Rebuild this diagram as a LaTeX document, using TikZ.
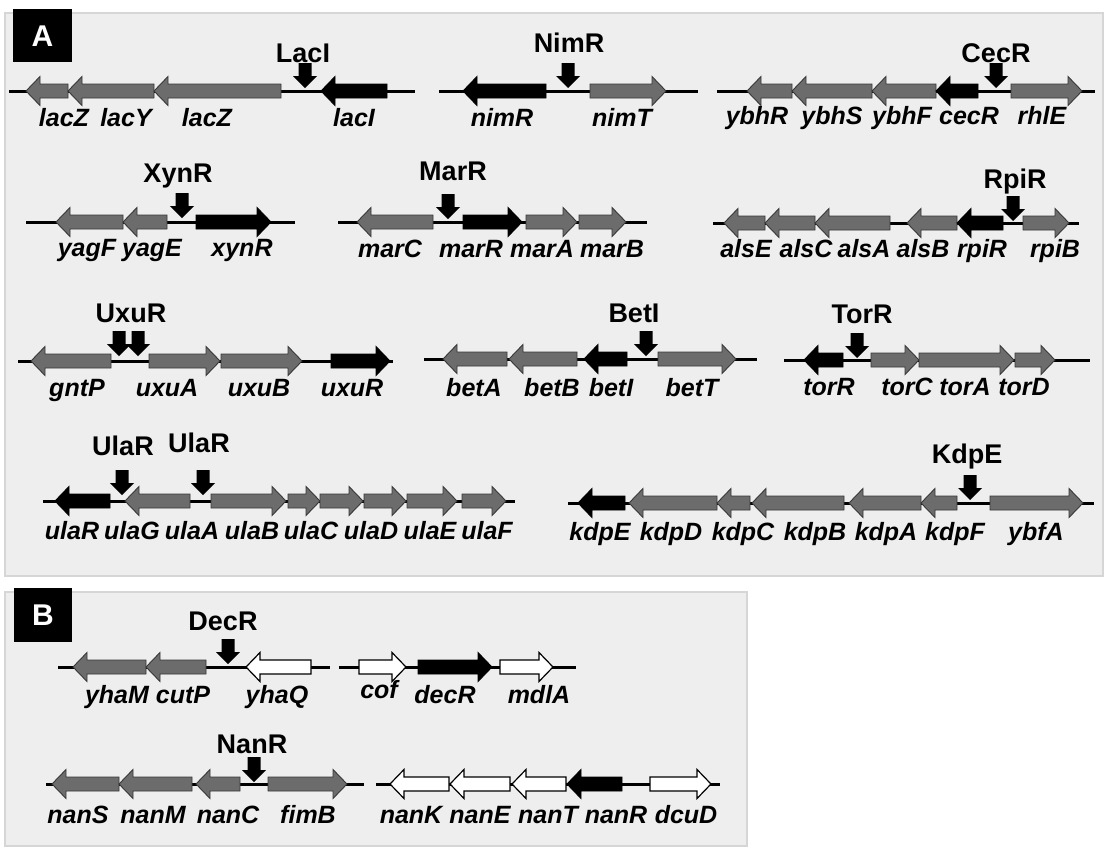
\documentclass[tikz,border=0pt]{standalone}
\usepackage{fontspec}
\setmainfont{Liberation Sans}
\definecolor{genegray}{RGB}{108,108,108}
\definecolor{geneedge}{RGB}{55,55,55}
\definecolor{panelbg}{RGB}{238,238,238}
\definecolor{panelrule}{RGB}{214,214,214}
\newcommand\gfont{\fontsize{25}{30}\selectfont\bfseries\itshape}
\newcommand\pfont{\fontsize{27}{32}\selectfont\bfseries}
\tikzset{
  bb/.style={line width=3pt, black},
  gg/.style={fill=genegray, draw=geneedge, line width=0.9pt, line join=miter},
  gb/.style={fill=black, draw=black, line width=0.9pt},
  gw/.style={fill=white, draw=black, line width=1.2pt},
  gname/.style={font=\gfont, anchor=base, inner sep=0pt},
  pname/.style={font=\pfont, anchor=base, inner sep=0pt},
  panel/.style={fill=panelbg, draw=panelrule, line width=2.5pt},
  tag/.style={fill=black},
}
% leftward gene: tip x, right end x, backbone y
\newcommand\geneL[4]{\draw[#1] (#2,#4) -- (#2+14,#4-14.5) -- (#2+14,#4-7) -- (#3,#4-7) -- (#3,#4+7) -- (#2+14,#4+7) -- (#2+14,#4+14.5) -- cycle;}
% rightward gene: left end x, tip x, backbone y
\newcommand\geneR[4]{\draw[#1] (#2,#4-7) -- (#3-14,#4-7) -- (#3-14,#4-14.5) -- (#3,#4) -- (#3-14,#4+14.5) -- (#3-14,#4+7) -- (#2,#4+7) -- cycle;}
% binding-site marker: x, tip y
\newcommand\site[2]{\fill (#1-6.5,#2-25) -- (#1+6.5,#2-25) -- (#1+6.5,#2-12) -- (#1+12,#2-12) -- (#1,#2) -- (#1-12,#2-12) -- (#1-6.5,#2-12) -- cycle;}
\begin{document}
\begin{tikzpicture}[x=1pt,y=-1pt]
\useasboundingbox (0,0) rectangle (1109,847);
\fill[white] (0,0) rectangle (1109,847);

% ---------------- panel A ----------------
\draw[panel] (5,13) rectangle (1103,576);
\fill[tag] (13,9) rectangle (72,62);
\node[font=\fontsize{30}{34}\selectfont\bfseries, text=white] (tagA) at (42.5,36) {A};

% lac
\draw[bb] (9,91) -- (415,91);
\geneL{gg}{26}{68}{91}
\geneL{gg}{68}{154}{91}
\geneL{gg}{154}{281}{91}
\geneL{gb}{321}{387}{91}
\site{305}{88}
\node[pname] (pLacI) at (303,62) {LacI};
\node[gname] (lacA) at (64,126) {lacZ};
\node[gname] (lacY) at (126,126) {lacY};
\node[gname] (lacZ) at (207,126) {lacZ};
\node[gname] (lacI) at (354,126) {lacI};

% nim
\draw[bb] (439,91) -- (698,91);
\geneL{gb}{463}{546}{91}
\geneR{gg}{590}{666}{91}
\site{568}{88}
\node[pname] (pNimR) at (569,52) {NimR};
\node[gname] (nimR) at (502,126) {nimR};
\node[gname] (nimT) at (622,126) {nimT};

% cec
\draw[bb] (717,91) -- (1095,91);
\geneL{gg}{747}{792}{91}
\geneL{gg}{792}{872}{91}
\geneL{gg}{872}{936}{91}
\geneL{gb}{936}{978}{91}
\geneR{gg}{1011}{1082}{91}
\site{996}{88}
\node[pname] (pCecR) at (996,62) {CecR};
\node[gname] (ybhR) at (757,124) {ybhR};
\node[gname] (ybhS) at (832,124) {ybhS};
\node[gname] (ybhF) at (902,124) {ybhF};
\node[gname] (cecR) at (969,124) {cecR};
\node[gname] (rhlE) at (1042,124) {rhlE};

% xyn
\draw[bb] (26,222) -- (295,222);
\geneL{gg}{56}{123}{222}
\geneL{gg}{123}{167}{222}
\geneR{gb}{196}{271}{222}
\site{182}{218}
\node[pname] (pXynR) at (178,182) {XynR};
\node[gname] (yagF) at (87,256) {yagF};
\node[gname] (yagE) at (152,256) {yagE};
\node[gname] (xynR) at (242,256) {xynR};

% mar
\draw[bb] (338,222) -- (647,222);
\geneL{gg}{357}{433}{222}
\geneR{gb}{463}{522}{222}
\geneR{gg}{526}{577}{222}
\geneR{gg}{579}{626}{222}
\site{448}{219}
\node[pname] (pMarR) at (453,180) {MarR};
\node[gname] (marC) at (390,257) {marC};
\node[gname] (marR) at (471,257) {marR};
\node[gname] (marA) at (542,257) {marA};
\node[gname] (marB) at (612,257) {marB};

% als / rpi
\draw[bb] (713,223) -- (1079,223);
\geneL{gg}{724}{765}{223}
\geneL{gg}{765}{815}{223}
\geneL{gg}{815}{890}{223}
\geneL{gg}{907}{957}{223}
\geneL{gb}{957}{1003}{223}
\geneR{gg}{1023}{1069}{223}
\site{1013}{221}
\node[pname] (pRpiR) at (1015,188) {RpiR};
\node[gname] (alsE) at (746,257) {alsE};
\node[gname] (alsC) at (806,257) {alsC};
\node[gname] (alsA) at (864,257) {alsA};
\node[gname] (alsB) at (923,257) {alsB};
\node[gname] (rpiR) at (982,257) {rpiR};
\node[gname] (rpiB) at (1055,257) {rpiB};

% uxu
\draw[bb] (18,361) -- (393,361);
\geneL{gg}{31}{111}{361}
\geneR{gg}{149}{220}{361}
\geneR{gg}{221}{302}{361}
\geneR{gb}{331}{390}{361}
\site{119}{356}
\site{138}{356}
\node[pname] (pUxuR) at (131,322) {UxuR};
\node[gname] (gntP) at (77,396) {gntP};
\node[gname] (uxuA) at (167,396) {uxuA};
\node[gname] (uxuB) at (259,396) {uxuB};
\node[gname] (uxuR) at (352,396) {uxuR};

% bet
\draw[bb] (424,359) -- (757,359);
\geneL{gg}{443}{507}{359}
\geneL{gg}{509}{577}{359}
\geneL{gb}{584}{627}{359}
\geneR{gg}{658}{736}{359}
\site{646}{356}
\node[pname] (pBetI) at (634,322) {BetI};
\node[gname] (betA) at (474,396) {betA};
\node[gname] (betB) at (552,396) {betB};
\node[gname] (betI) at (611,396) {betI};
\node[gname] (betT) at (692,396) {betT};

% tor
\draw[bb] (784,360) -- (1090,360);
\geneL{gb}{804}{843}{360}
\geneR{gg}{871}{919}{360}
\geneR{gg}{919}{1014}{360}
\geneR{gg}{1015}{1055}{360}
\site{857}{358}
\node[pname] (pTorR) at (862,323) {TorR};
\node[gname] (torR) at (829,395) {torR};
\node[gname] (torC) at (907,395) {torC};
\node[gname] (torA) at (965,395) {torA};
\node[gname] (torD) at (1024,395) {torD};

% ula
\draw[bb] (43,501) -- (515,501);
\geneL{gb}{55}{110}{501}
\geneL{gg}{125}{190}{501}
\geneR{gg}{211}{286}{501}
\geneR{gg}{288}{320}{501}
\geneR{gg}{320}{363}{501}
\geneR{gg}{364}{406}{501}
\geneR{gg}{407}{457}{501}
\geneR{gg}{462}{506}{501}
\site{122}{495}
\site{203}{495}
\node[pname] (pUlaR1) at (123,455) {UlaR};
\node[pname] (pUlaR2) at (199,452) {UlaR};
\node[gname] (ulaR) at (72,539) {ulaR};
\node[gname] (ulaG) at (132,539) {ulaG};
\node[gname] (ulaA) at (192,539) {ulaA};
\node[gname] (ulaB) at (252,539) {ulaB};
\node[gname] (ulaC) at (311,539) {ulaC};
\node[gname] (ulaD) at (371,539) {ulaD};
\node[gname] (ulaE) at (430,539) {ulaE};
\node[gname] (ulaF) at (487,539) {ulaF};

% kdp
\draw[bb] (568,503) -- (1094,503);
\geneL{gb}{578}{625}{503}
\geneL{gg}{629}{717}{503}
\geneL{gg}{717}{750}{503}
\geneL{gg}{752}{844}{503}
\geneL{gg}{849}{921}{503}
\geneL{gg}{921}{957}{503}
\geneR{gg}{990}{1083}{503}
\site{970}{500}
\node[pname] (pKdpE) at (967,463) {KdpE};
\node[gname] (kdpE) at (600,540) {kdpE};
\node[gname] (kdpD) at (671,540) {kdpD};
\node[gname] (kdpC) at (743,540) {kdpC};
\node[gname] (kdpB) at (815,540) {kdpB};
\node[gname] (kdpA) at (886,540) {kdpA};
\node[gname] (kdpF) at (955,540) {kdpF};
\node[gname] (ybfA) at (1036,540) {ybfA};

% ---------------- panel B ----------------
\draw[panel] (5,592) rectangle (747,846);
\fill[tag] (14,588) rectangle (72,642);
\node[font=\fontsize{30}{34}\selectfont\bfseries, text=white] (tagB) at (43,615) {B};

% yha / cutP
\draw[bb] (58,667) -- (330,667);
\geneL{gg}{73}{146}{667}
\geneL{gg}{146}{206}{667}
\geneL{gw}{246}{311}{667}
\site{228}{664}
\node[pname] (pDecR) at (223,630) {DecR};
\node[gname] (yhaM) at (117,703) {yhaM};
\node[gname] (cutP) at (183,703) {cutP};
\node[gname] (yhaQ) at (277,703) {yhaQ};

% cof / dec
\draw[bb] (339,667) -- (576,667);
\geneR{gw}{359}{406}{667}
\geneR{gb}{418}{492}{667}
\geneR{gw}{500}{553}{667}
\node[gname] (cof) at (379,698) {cof};
\node[gname] (decR) at (445,703) {decR};
\node[gname] (mdlA) at (539,703) {mdlA};

% nan (left)
\draw[bb] (46,784) -- (364,784);
\geneL{gg}{52}{119}{784}
\geneL{gg}{119}{192}{784}
\geneL{gg}{196}{240}{784}
\geneR{gg}{268}{347}{784}
\site{254}{782}
\node[pname] (pNanR) at (252,753) {NanR};
\node[gname] (nanS) at (78,823) {nanS};
\node[gname] (nanM) at (153,823) {nanM};
\node[gname] (nanC) at (228,823) {nanC};
\node[gname] (fimB) at (308,823) {fimB};

% nan (right)
\draw[bb] (376,784) -- (720,784);
\geneL{gw}{390}{449}{784}
\geneL{gw}{450}{510}{784}
\geneL{gw}{512}{566}{784}
\geneL{gb}{567}{622}{784}
\geneR{gw}{650}{711}{784}
\node[gname] (nanK) at (411,823) {nanK};
\node[gname] (nanE) at (480,823) {nanE};
\node[gname] (nanT) at (548,823) {nanT};
\node[gname] (nanR) at (616,823) {nanR};
\node[gname] (dcuD) at (686,823) {dcuD};
\end{tikzpicture}
\end{document}
